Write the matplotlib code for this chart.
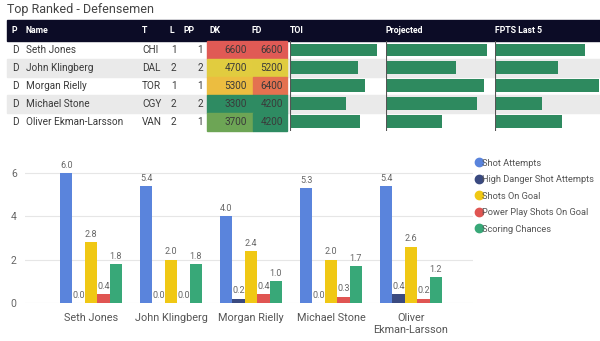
import matplotlib.pyplot as plt
import matplotlib.colors as mcolors
from matplotlib.patches import Rectangle
from matplotlib.lines import Line2D
import numpy as np

plt.rcParams['font.family'] = ['Roboto', 'DejaVu Sans']

# table data
names = ['Seth Jones', 'John Klingberg', 'Morgan Rielly', 'Michael Stone', 'Oliver Ekman-Larsson']
positions = ['D', 'D', 'D', 'D', 'D']
teams = ['CHI', 'DAL', 'TOR', 'CGY', 'VAN']
lines = [1, 2, 1, 2, 2]
pp = [1, 2, 1, 2, 1]
dk = [6600, 4700, 5300, 3300, 3700]
fd = [6600, 5200, 6400, 4200, 4200]
toi = [24.6, 19.3, 21.2, 15.9, 19.8]
projected = [10.1, 7.0, 9.8, 9.1, 5.6]
fpts_last5 = [9.0, 6.3, 10.4, 4.7, 6.7]

# bar chart data
players = ['Seth Jones', 'John Klingberg', 'Morgan Rielly', 'Michael Stone', 'Oliver\nEkman-Larsson']
series = ['Shot Attempts', 'High Danger Shot Attempts', 'Shots On Goal',
          'Power Play Shots On Goal', 'Scoring Chances']
shot_attempts = [6.0, 5.4, 4.0, 5.3, 5.4]
high_danger = [0.0, 0.0, 0.2, 0.0, 0.4]
shots_on_goal = [2.8, 2.0, 2.4, 2.0, 2.6]
pp_shots = [0.4, 0.0, 0.4, 0.3, 0.2]
scoring_chances = [1.8, 1.8, 1.0, 1.7, 1.2]
colors = ['#5a84dc', '#3a4a80', '#f0c814', '#e05552', '#38a878']

W, H = 600, 341
fig = plt.figure(figsize=(6, 3.41), dpi=100)


def px_axes(x, y, w, h):
    # axes placed by pixel box, y from top
    return fig.add_axes([x / W, 1 - (y + h) / H, w / W, h / H])


# background axes for the table in pixel units
bg = px_axes(0, 0, W, H)
bg.set_xlim(0, W)
bg.set_ylim(H, 0)
bg.axis('off')

txt_col = '#3a3a3a'
fs = 7.2
bg.text(7, 10, 'Top Ranked - Defensemen', fontsize=9.0, color='#444444', va='center')

top, row_h = 41, 17.9
bg.add_patch(Rectangle((7, 20), W - 7, top - 20, color='#0c0c26'))
for lab, xx in [('P', 11), ('Name', 26), ('T', 142), ('L', 170), ('PP', 184),
                ('DK', 210), ('FD', 252), ('TOI', 290), ('Projected', 386), ('FPTS Last 5', 495)]:
    bg.text(xx, 30.5, lab, color='white', fontsize=6.3, va='center', fontweight='bold')

greenyelred = mcolors.LinearSegmentedColormap.from_list(
    'gyr', ['#2e8b62', '#dbd33f', '#f0b840', '#e05a55'])

for i in range(len(names)):
    y0 = top + i * row_h
    yc = y0 + row_h / 2
    if i % 2 == 1:
        bg.add_patch(Rectangle((7, y0), W - 7, row_h, color='#eaeaea', zorder=0))
    bg.text(12, yc, positions[i], fontsize=fs, color=txt_col, va='center')
    bg.text(26, yc, names[i], fontsize=fs, color=txt_col, va='center')
    bg.text(142, yc, teams[i], fontsize=fs, color=txt_col, va='center')
    bg.text(171, yc, str(lines[i]), fontsize=fs, color=txt_col, va='center')
    bg.text(203, yc, str(pp[i]), fontsize=fs, color=txt_col, va='center', ha='right')
    # conditional formatting cells
    c_dk = greenyelred((dk[i] - min(dk)) / (max(dk) - min(dk)))
    c_fd = greenyelred((fd[i] - min(fd)) / (max(fd) - min(fd)))
    bg.add_patch(Rectangle((207, y0), 46, row_h, color=c_dk, zorder=1))
    bg.add_patch(Rectangle((253, y0), 34, row_h, color=c_fd, zorder=1))
    bg.text(247, yc, str(dk[i]), fontsize=fs, color=txt_col, va='center', ha='right', zorder=2)
    bg.text(283, yc, str(fd[i]), fontsize=fs, color=txt_col, va='center', ha='right', zorder=2)

# data bar columns
for vals, x0, w, xmax in [(toi, 290, 95, 26.8), (projected, 386, 107, 10.7),
                          (fpts_last5, 495, 105, 10.5)]:
    a = px_axes(x0, top, w, row_h * 5)
    a.patch.set_alpha(0)
    a.barh(np.arange(5), vals, height=0.72, color='#2e8a5f')
    a.set_xlim(0, xmax)
    a.set_ylim(4.5, -0.5)
    a.axis('off')
    a.axvline(0, color='#555555', lw=0.8)

# grouped bar chart
ax = px_axes(25, 160, 448, 143)
ax.patch.set_alpha(0)
x = np.arange(len(players))
bw = 0.155
all_vals = [shot_attempts, high_danger, shots_on_goal, pp_shots, scoring_chances]
for k, vals in enumerate(all_vals):
    bars = ax.bar(x + (k - 2) * bw, vals, width=bw, color=colors[k], label=series[k])
    for b, v in zip(bars, vals):
        ax.text(b.get_x() + b.get_width() / 2, v + 0.15, '%.1f' % v, ha='center',
                va='bottom', fontsize=6.5, color='#666666')

ax.set_xlim(-0.825, 4.775)
ax.set_ylim(0, 6.6)
ax.set_yticks([0, 2, 4, 6])
ax.grid(axis='y', color='#e6e6e6', lw=0.8)
ax.set_axisbelow(True)
for s in ax.spines.values():
    s.set_visible(False)
ax.tick_params(length=0, labelsize=7.5, colors='#666666')
ax.tick_params(axis='y', pad=6)
ax.set_xticks(x)
ax.set_xticklabels(players, fontsize=7.8, color='#555555', linespacing=1.3)
ax.tick_params(axis='x', pad=7)

handles = [Line2D([], [], marker='o', ls='', color=c, markersize=6) for c in colors]
fig.legend(handles, series, loc='upper left', bbox_to_anchor=(472 / W, 1 - 155 / H),
           frameon=False, fontsize=6.7, handlelength=0.6, handletextpad=0.1,
           labelspacing=0.8, labelcolor='#555555', borderaxespad=0)

fig.savefig('out.png', dpi=100)
